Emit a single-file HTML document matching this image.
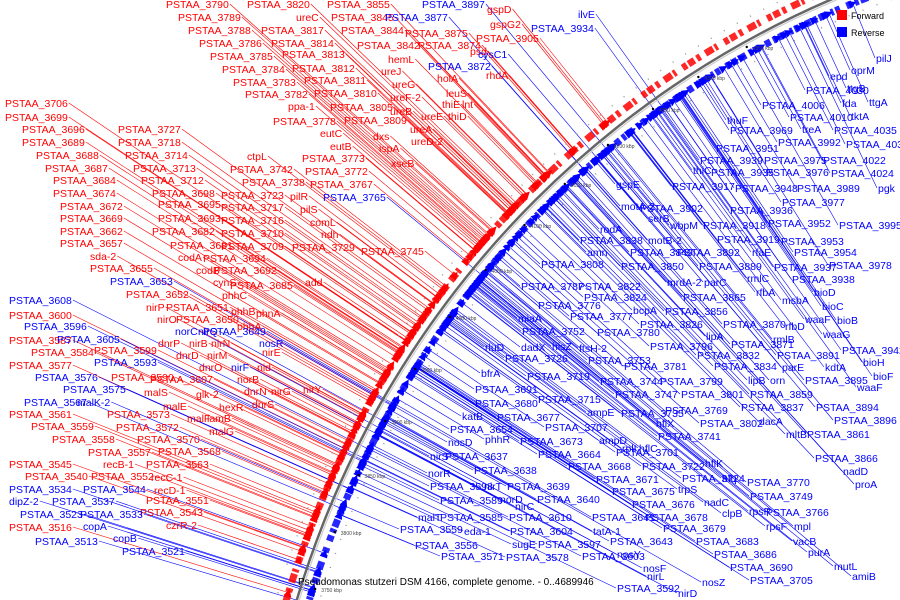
<!DOCTYPE html>
<html><head><meta charset="utf-8"><style>
html,body{margin:0;padding:0;background:#fff;width:900px;height:600px;overflow:hidden}
svg{display:block;overflow:hidden}
text{font-family:"Liberation Sans",sans-serif}
</style></head><body>
<svg id="chart" width="900" height="600" viewBox="0 0 900 600" xmlns="http://www.w3.org/2000/svg">
<g id="lines"></g>
<g id="track"></g>
<g id="labels"></g>
<g>
<rect x="837" y="10" width="10" height="10" fill="#f00"/>
<text x="851" y="19" font-size="9">Forward</text>
<rect x="837" y="27" width="10" height="10" fill="#00f"/>
<text x="851" y="36" font-size="9">Reverse</text>
</g>
<text x="298" y="585" font-size="10" fill="#000">Pseudomonas stutzeri DSM 4166, complete genome. - 0..4689946</text>
</svg>
<script>
const CX=1207, CY=872, R=950;
// forward (red) labels outside the circle: [name, x, y]
const fwdLabels=[["PSTAA_3790",166,8],["PSTAA_3820",247,8],["PSTAA_3855",327,8],["gspD",487,13],["PSTAA_3789",178,21],["ureC",296,21],["PSTAA_3845",331,21],["gspG2",490,28],["PSTAA_3788",188,34],["PSTAA_3817",261,34],["PSTAA_3844",341,34],["PSTAA_3875",405,37],["PSTAA_3905",476,42],["PSTAA_3786",199,47],["PSTAA_3814",271,47],["PSTAA_3842",357,49],["PSTAA_3874",418,49],["psd",470,55],["PSTAA_3813",282,58],["PSTAA_3785",210,60],["hemL",388,63],["PSTAA_3784",222,73],["PSTAA_3812",292,72],["ureJ",381,75],["rhdA",486,79],["PSTAA_3783",233,86],["PSTAA_3811",304,84],["holA",437,82],["PSTAA_3782",245,98],["PSTAA_3810",314,97],["ureG",392,88],["leuS",446,97],["ppa-1",288,110],["PSTAA_3805",330,111],["ureF-2",390,101],["thiE",442,108],["lnt",462,108],["ureB",390,115],["thiD",448,120],["ureE",421,120],["PSTAA_3778",273,125],["PSTAA_3809",344,124],["ureA",410,133],["eutC",320,137],["dxs",373,140],["ureD-2",411,145],["eutB",330,150],["ispA",379,152],["PSTAA_3706",5,107],["PSTAA_3699",5,121],["PSTAA_3696",22,133],["PSTAA_3727",118,133],["PSTAA_3689",22,146],["PSTAA_3718",118,146],["PSTAA_3688",36,159],["PSTAA_3714",125,159],["ctpL",247,160],["PSTAA_3773",302,162],["xseB",391,167],["PSTAA_3687",45,172],["PSTAA_3713",133,172],["PSTAA_3742",230,173],["PSTAA_3772",305,175],["PSTAA_3684",53,184],["PSTAA_3712",141,184],["PSTAA_3738",242,186],["PSTAA_3767",310,188],["PSTAA_3674",53,197],["PSTAA_3698",152,197],["PSTAA_3723",221,199],["pilR",290,200],["PSTAA_3672",60,210],["PSTAA_3695",158,208],["PSTAA_3717",221,211],["pilS",300,213],["PSTAA_3669",60,222],["PSTAA_3693",158,222],["PSTAA_3716",221,224],["comL",310,226],["PSTAA_3662",60,235],["PSTAA_3682",152,235],["PSTAA_3710",221,237],["ndh",321,238],["PSTAA_3657",60,247],["PSTAA_3681",170,249],["PSTAA_3709",221,250],["PSTAA_3729",292,251],["PSTAA_3745",361,255],["sda-2",90,260],["codA",178,261],["PSTAA_3694",203,262],["PSTAA_3655",90,272],["codB",196,274],["PSTAA_3692",214,274],["cynS",213,286],["PSTAA_3685",230,289],["add",305,286],["PSTAA_3652",126,298],["phhC",222,299],["nirP",146,311],["PSTAA_3651",166,311],["phhB",231,315],["phnA",256,317],["nirO",157,323],["PSTAA_3650",176,323],["phhA",237,330],["PSTAA_3600",9,319],["dnrP",158,347],["nirB",189,347],["nirN",211,347],["nirE",262,356],["nid",257,371],["PSTAA_3587",9,344],["PSTAA_3599",94,354],["dnrD",176,359],["nirM",207,359],["PSTAA_3584",31,356],["dnrO",199,371],["PSTAA_3577",9,369],["PSTAA_3590",111,381],["PSTAA_3607",150,383],["norB",237,383],["nirY",303,393],["malS",144,396],["glk-2",196,398],["dnrN",244,395],["nirG",271,395],["malE",163,410],["hexR",219,411],["dnrS",252,408],["PSTAA_3561",9,418],["PSTAA_3573",107,418],["malF",187,422],["lamB",207,422],["PSTAA_3559",31,430],["PSTAA_3572",116,431],["malG",209,435],["PSTAA_3558",52,443],["PSTAA_3570",137,443],["PSTAA_3557",88,456],["PSTAA_3568",158,455],["PSTAA_3545",9,468],["recB-1",103,468],["PSTAA_3563",146,468],["PSTAA_3540",25,480],["PSTAA_3552",91,480],["recC-1",151,481],["recD-1",154,494],["PSTAA_3551",146,504],["PSTAA_3543",140,516],["czrR-2",166,529],["PSTAA_3516",9,531]];
// reverse (blue) labels outside the circle
const revOuterLabels=[["PSTAA_3608",9,304],["PSTAA_3596",24,330],["PSTAA_3605",57,343],["PSTAA_3593",94,366],["norC",175,335],["nirQ",198,335],["PSTAA_3649",203,335],["nosR",259,347],["nirF",231,371],["PSTAA_3576",35,381],["PSTAA_3575",63,393],["PSTAA_3567",24,406],["malK-2",77,406],["PSTAA_3653",110,285],["PSTAA_3534",9,493],["PSTAA_3544",83,493],["dipZ-2",9,505],["PSTAA_3537",52,505],["PSTAA_3523",20,518],["PSTAA_3533",80,518],["copA",83,530],["copB",113,542],["PSTAA_3513",35,545],["PSTAA_3521",122,555],["PSTAA_3877",385,21],["PSTAA_3897",422,8],["PSTAA_3934",531,32],["PSTAA_3872",428,70],["cysC1",478,58],["PSTAA_3765",323,201],["ilvE",578,18]];
// reverse (blue) labels inside the circle
const revInnerLabels=[["epd",830,80],["oprM",851,74],["pilJ",876,62],["ttgB",847,92],["ttgA",869,106],["PSTAA_4030",806,94],["PSTAA_4006",762,109],["fda",842,107],["thuF",727,124],["PSTAA_4010",790,121],["tktA",851,120],["PSTAA_3969",730,134],["treA",802,133],["PSTAA_4035",834,134],["PSTAA_3951",716,152],["PSTAA_3992",778,146],["PSTAA_4036",846,148],["PSTAA_3939",700,164],["PSTAA_3975",764,164],["PSTAA_4022",823,164],["thiC",693,174],["PSTAA_3935",711,176],["PSTAA_3976",766,176],["PSTAA_4024",831,177],["PSTAA_3917",672,190],["PSTAA_3948",735,192],["PSTAA_3989",797,192],["pgk",878,192],["gspE",616,188],["PSTAA_3977",782,206],["motA-2",621,210],["PSTAA_3902",640,212],["PSTAA_3936",730,214],["serB",648,222],["PSTAA_3995",839,229],["rodA",600,233],["wbpM",670,229],["PSTAA_3918",703,229],["PSTAA_3952",768,227],["PSTAA_3838",580,244],["motB-2",648,244],["PSTAA_3919",717,243],["PSTAA_3953",781,245],["amn",587,256],["PSTAA_3849",630,256],["PSTAA_3892",677,256],["rfaE",752,256],["PSTAA_3954",794,256],["PSTAA_3978",829,269],["PSTAA_3808",541,268],["PSTAA_3850",621,270],["PSTAA_3889",699,270],["PSTAA_3937",774,271],["PSTAA_3787",521,290],["PSTAA_3822",578,290],["mrdA-2",667,286],["parC",704,286],["rmlC",747,282],["PSTAA_3938",792,283],["PSTAA_3824",584,301],["PSTAA_3865",683,301],["rfbA",756,296],["bioD",814,296],["PSTAA_3776",538,309],["bcpA",633,314],["PSTAA_3856",665,315],["msbA",782,304],["bioC",822,310],["PSTAA_3777",570,320],["PSTAA_3826",640,328],["PSTAA_3870",723,328],["rfbD",785,330],["waaF",805,323],["bioB",837,324],["miaA",518,322],["PSTAA_3752",522,335],["PSTAA_3780",597,336],["lipA",706,340],["rmlB",773,343],["waaG",823,338],["PSTAA_3871",731,348],["PSTAA_3942",842,354],["rluD",485,351],["dadX",521,351],["hisZ",552,350],["ftsH-2",579,352],["PSTAA_3796",650,350],["PSTAA_3832",697,359],["PSTAA_3891",777,359],["bioH",863,366],["PSTAA_3726",505,362],["PSTAA_3753",588,364],["PSTAA_3781",624,370],["PSTAA_3834",714,370],["parE",782,371],["kdtA",825,371],["bfrA",481,377],["PSTAA_3719",527,380],["PSTAA_3744",600,385],["PSTAA_3799",660,385],["lipB",748,384],["orn",770,384],["PSTAA_3895",805,384],["bioF",873,380],["PSTAA_3691",475,393],["PSTAA_3715",538,403],["PSTAA_3747",615,398],["PSTAA_3801",681,398],["PSTAA_3859",750,398],["waaF",857,391],["PSTAA_3680",475,407],["ampE",587,416],["PSTAA_3735",621,417],["PSTAA_3769",665,414],["PSTAA_3837",741,411],["PSTAA_3894",816,411],["katB",462,420],["PSTAA_3677",497,421],["hflX",656,427],["dacA",759,425],["PSTAA_3896",834,424],["PSTAA_3654",450,433],["PSTAA_3707",545,431],["PSTAA_3741",658,440],["PSTAA_3802",700,427],["mltB",786,438],["PSTAA_3861",807,438],["nosD",448,446],["phhR",485,443],["PSTAA_3673",520,445],["ampD",599,444],["rplI",622,452],["hflC",639,452],["PSTAA_3701",616,456],["PSTAA_3866",815,462],["nirS",430,460],["PSTAA_3637",445,460],["PSTAA_3664",538,458],["PSTAA_3722",642,470],["hflK",705,467],["nadD",843,475],["norR",428,477],["PSTAA_3638",474,474],["PSTAA_3668",568,470],["PSTAA_3724",682,482],["hfq",722,482],["PSTAA_3770",747,486],["PSTAA_3671",596,483],["proA",855,488],["PSTAA_3598",430,490],["nirT",484,490],["PSTAA_3639",507,490],["PSTAA_3675",612,495],["trpS",678,493],["nadC",704,506],["PSTAA_3749",750,500],["PSTAA_3589",440,504],["norD",500,503],["PSTAA_3640",537,503],["PSTAA_3676",632,508],["PSTAA_3766",766,516],["malT",418,521],["PSTAA_3585",440,521],["nirC",515,510],["PSTAA_3610",509,521],["PSTAA_3641",592,521],["clpB",722,517],["rpsR",749,515],["rpsF",766,530],["mpl",794,530],["PSTAA_3678",645,521],["PSTAA_3559",400,533],["eda-1",464,535],["PSTAA_3604",510,535],["tatA-1",593,535],["PSTAA_3679",663,532],["PSTAA_3556",415,549],["PSTAA_3571",441,560],["sugE",512,548],["PSTAA_3597",538,548],["PSTAA_3643",610,545],["PSTAA_3683",696,545],["vacB",793,545],["PSTAA_3578",506,561],["PSTAA_3603",582,560],["nosY",617,558],["PSTAA_3686",714,558],["purA",808,556],["nosF",643,572],["PSTAA_3690",730,571],["mutL",834,570],["nirL",647,580],["nosZ",702,586],["PSTAA_3705",750,584],["amiB",852,580],["PSTAA_3592",617,592],["nirD",678,597]];
const kbpTicks=["3750 kbp","3800 kbp","3850 kbp","3900 kbp","3950 kbp","4000 kbp","4050 kbp","4100 kbp","4150 kbp","4200 kbp","4250 kbp","4300 kbp","4350 kbp"];
const kbpY=[592,535,478,424,372,320,273,228,187,148,112,80,50];

const NS="http://www.w3.org/2000/svg";
const gL=document.getElementById('lines'),gT=document.getElementById('track'),gLab=document.getElementById('labels');
function mk(tag,parent,attrs){const e=document.createElementNS(NS,tag);for(const k in attrs)e.setAttribute(k,attrs[k]);parent.appendChild(e);return e;}
function onCircle(px,py,r){const dx=px-CX,dy=py-CY,d=Math.hypot(dx,dy);return [CX+dx/d*r,CY+dy/d*r];}
function block(pt,r,len,w,color){
  const a=Math.atan2(pt[1]-CY,pt[0]-CX);const tx=-Math.sin(a),ty=Math.cos(a),nx=Math.cos(a),ny=Math.sin(a);
  const x=CX+nx*r,y=CY+ny*r;
  const pts=[[x-tx*len/2-nx*w/2,y-ty*len/2-ny*w/2],[x+tx*len/2,y+ty*len/2],[x-tx*len/2+nx*w/2,y-ty*len/2+ny*w/2]];
  const p=mk('polygon',gT,{points:pts.map(q=>q.join(',')).join(' '),fill:color});
  
  
}
// dense gene tracks (background density of features)
const fTrack=mk('circle',gT,{cx:CX,cy:CY,r:R+10,fill:'none',stroke:'#f00',"stroke-width":7,"stroke-dasharray":"5 2 7 3 4 6 9 2 3 8","opacity":0.85});


const rTrack=mk('circle',gT,{cx:CX,cy:CY,r:R-12,fill:'none',stroke:'#00f',"stroke-width":7,"stroke-dasharray":"6 3 4 2 8 5 3 2 5 7","opacity":0.85});


const tickTrackO=mk('circle',gT,{cx:CX,cy:CY,r:R+20,fill:'none',stroke:'#999',"stroke-width":1.5,"stroke-dasharray":"1 14"});


const tickTrackI=mk('circle',gT,{cx:CX,cy:CY,r:R-22,fill:'none',stroke:'#999',"stroke-width":1.5,"stroke-dasharray":"1 14"});


const arc=mk('circle',gT,{cx:CX,cy:CY,r:R,fill:'none',stroke:'#666',"stroke-width":2.5});


const arc2=mk('circle',gT,{cx:CX,cy:CY,r:R-2.5,fill:'none',stroke:'#ccc',"stroke-width":1.2});



function addLabel(item,color,side){
  const [name,x,y]=item;
  const t=mk('text',gLab,{x:x,y:y,"font-size":10.5,fill:color});
  t.textContent=name;
  
  
  const w=t.getComputedTextLength();
  const sx=side==='in'?x-1:x+w+1, sy=y-4;
  const trackR=color==='#f00'?R+10:R-12;
  const target=onCircle(sx,sy,trackR);
  const l=mk('line',gL,{x1:sx,y1:sy,x2:target[0],y2:target[1],stroke:color,"stroke-width":0.6});
  
  
  block(target,trackR,8,8,color);
}
fwdLabels.forEach(it=>addLabel(it,'#f00','out'));
revOuterLabels.forEach(it=>addLabel(it,'#00f','out'));
revInnerLabels.forEach(it=>addLabel(it,'#00f','in'));
kbpTicks.forEach((lab,i)=>{
  const y=kbpY[i];const x=CX-Math.sqrt(R*R-(y-CY)*(y-CY));
  const t=mk('text',gT,{x:x+22,y:y,"font-size":5,fill:'#444'});
  t.textContent=lab;
  
  
  const tk=mk('circle',gT,{cx:x+16,cy:y-3,r:1.2,fill:'#000'});
  
  
});
</script>
</body></html>
